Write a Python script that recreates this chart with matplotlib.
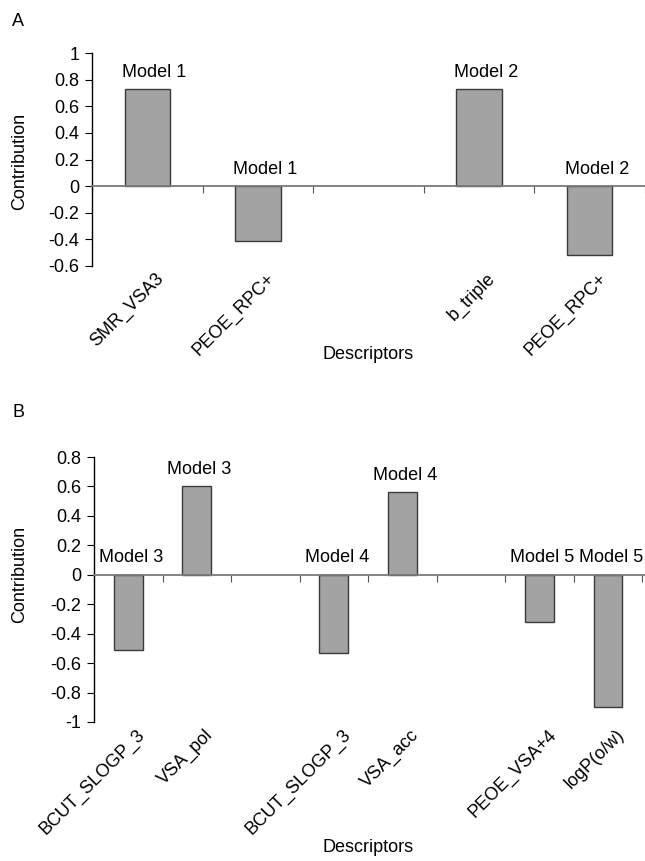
import numpy as np
import matplotlib
matplotlib.use("Agg")
import matplotlib.pyplot as plt
from matplotlib.transforms import blended_transform_factory, offset_copy

plt.rcParams["font.family"] = ["Liberation Sans", "DejaVu Sans"]
plt.rcParams["axes.unicode_minus"] = False

# Panel A data
a_labels = ["SMR_VSA3", "PEOE_RPC+", "", "b_triple", "PEOE_RPC+"]
a_values = [0.73, -0.41, np.nan, 0.73, -0.52]
a_models = ["Model 1", "Model 1", "", "Model 2", "Model 2"]
a_yticks = [-0.6, -0.4, -0.2, 0, 0.2, 0.4, 0.6, 0.8, 1]
a_yticklabels = ["-0.6", "-0.4", "-0.2", "0", "0.2", "0.4", "0.6", "0.8", "1"]

# Panel B data
b_labels = ["BCUT_SLOGP_3", "VSA_pol", "", "BCUT_SLOGP_3", "VSA_acc", "",
            "PEOE_VSA+4", "logP(o/w)"]
b_values = [-0.51, 0.60, np.nan, -0.53, 0.56, np.nan, -0.32, -0.90]
b_models = ["Model 3", "Model 3", "", "Model 4", "Model 4", "", "Model 5", "Model 5"]
b_yticks = [-1, -0.8, -0.6, -0.4, -0.2, 0, 0.2, 0.4, 0.6, 0.8]
b_yticklabels = ["-1", "-0.8", "-0.6", "-0.4", "-0.2", "0", "0.2", "0.4", "0.6", "0.8"]

FS = 13


def draw_panel(fig, rect, labels, values, models, yticks, yticklabels, xlim_right,
               label_dx, bar_w, ylab_xy):
    ax = fig.add_axes(rect)
    x = np.arange(len(labels))
    vals = np.array(values, dtype=float)
    mask = ~np.isnan(vals)
    ax.bar(x[mask], vals[mask], width=bar_w, color="#a3a3a3", edgecolor="#3a3a3a",
           linewidth=1.0, zorder=2)
    ax.set_xlim(-0.5, xlim_right)
    ax.set_ylim(yticks[0], yticks[-1])
    ax.set_yticks(yticks)
    ax.set_yticklabels(yticklabels, fontsize=FS)
    ax.set_xticks(np.arange(len(labels) + 1) - 0.5)
    ax.set_xticklabels([])
    for s in ["top", "right"]:
        ax.spines[s].set_visible(False)
    ax.spines["bottom"].set_position(("data", 0))
    ax.spines["bottom"].set_color("#7a7a7a")
    ax.spines["bottom"].set_linewidth(1.3)
    ax.spines["left"].set_linewidth(1.0)
    ax.tick_params(axis="x", direction="out", length=5, color="#555555")
    ax.tick_params(axis="y", direction="out", length=5, pad=4)
    ax.set_ylabel("Contribution", fontsize=FS)
    ax.yaxis.set_label_coords(*ylab_xy)

    # model labels above bars (or above zero line for negatives)
    for xi, v, m in zip(x, vals, models):
        if np.isnan(v):
            continue
        y0 = max(v, 0)
        ax.annotate(m, (xi, y0), xytext=(label_dx, 6), textcoords="offset points",
                    ha="center", va="bottom", fontsize=FS, annotation_clip=False)

    # rotated category labels under the axes
    trans = blended_transform_factory(ax.transData, ax.transAxes)
    trans = offset_copy(trans, fig=fig, x=8, y=-4, units="dots")
    for xi, lab in zip(x, labels):
        if not lab:
            continue
        ax.text(xi, 0, lab, transform=trans, rotation=45, rotation_mode="anchor",
                ha="right", va="top", fontsize=FS)
    return ax


fig = plt.figure(figsize=(6.45, 8.61), dpi=100)

draw_panel(fig, [92 / 645, 1 - 266 / 861, 553 / 645, 213 / 861],
           a_labels, a_values, a_models, a_yticks, a_yticklabels, 4.5, 5, 0.41,
           (-0.116, 0.49))
draw_panel(fig, [94 / 645, 1 - 722 / 861, 551 / 645, 265 / 861],
           b_labels, b_values, b_models, b_yticks, b_yticklabels, 7.54, 2, 0.42,
           (-0.12, 0.555))

fig.text(12 / 645, 1 - 22 / 861, "A", fontsize=FS, ha="left", va="center")
fig.text(12 / 645, 1 - 412 / 861, "B", fontsize=FS, ha="left", va="center")
fig.text(368 / 645, 1 - 355 / 861, "Descriptors", fontsize=FS, ha="center", va="center")
fig.text(368 / 645, 1 - 848 / 861, "Descriptors", fontsize=FS, ha="center", va="center")

fig.savefig("out.png", dpi=100)
